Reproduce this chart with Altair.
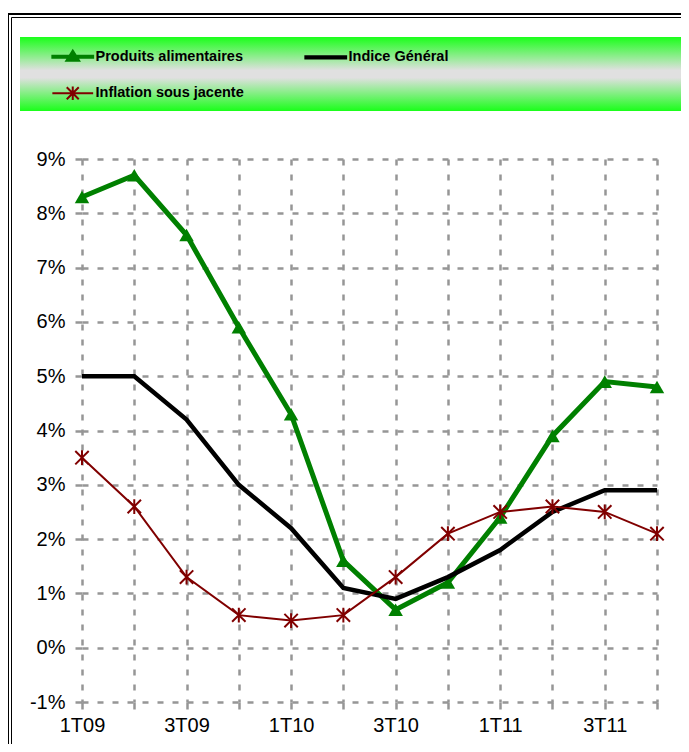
import altair as alt
import pandas as pd

quarters = ["1T09", "2T09", "3T09", "4T09", "1T10", "2T10", "3T10", "4T10",
            "1T11", "2T11", "3T11", "4T11"]
x_labels = ["1T09", "3T09", "1T10", "3T10", "1T11", "3T11"]
produits_alimentaires = [8.3, 8.7, 7.6, 5.9, 4.3, 1.6, 0.7, 1.2, 2.4, 3.9, 4.9, 4.8]
indice_general = [5.0, 5.0, 4.2, 3.0, 2.2, 1.1, 0.9, 1.3, 1.8, 2.5, 2.9, 2.9]
inflation_sous_jacente = [3.5, 2.6, 1.3, 0.6, 0.5, 0.6, 1.3, 2.1, 2.5, 2.6, 2.5, 2.1]
series_names = ["Produits alimentaires", "Indice Général", "Inflation sous jacente"]
series_colors = ["#008000", "#000000", "#800000"]
y_ticks = list(range(-1, 10))

ASTERISK = "M-1,-1L1,1M-1,1L1,-1M0,-1.1L0,1.1"
legend_shapes = [
    "M-5.1,-0.25H5.1V0.25H-5.1Z M0,-1.5L1.6,1.0L-1.6,1.0Z",
    "M-5.1,-0.3H5.1V0.3H-5.1Z",
    "M-5.1,0H5.1 M-1.5,-1.5L1.5,1.5 M-1.5,1.5L1.5,-1.5 M0,-1.7L0,1.7",
]

rows = []
for name, vals in zip(series_names,
                      [produits_alimentaires, indice_general, inflation_sous_jacente]):
    for q, v in zip(quarters, vals):
        rows.append({"trimestre": q, "valeur": v, "serie": name})
df = pd.DataFrame(rows)

GRID = "#969696"
FONT = "Liberation Sans"

x_enc = alt.X(
    "trimestre:O",
    scale=alt.Scale(type="point", padding=0, domain=quarters),
    axis=alt.Axis(
        title=None,
        labelExpr=f"indexof({x_labels}, datum.value) >= 0 ? datum.value : ''",
        labelAngle=0, tickSize=7, labelPadding=6,
    ),
)
y_enc = alt.Y(
    "valeur:Q",
    scale=alt.Scale(domain=[-1, 9], nice=False, zero=False),
    axis=alt.Axis(
        title=None, values=y_ticks, labelExpr="datum.value + '%'",
        tickSize=7, labelPadding=10,
    ),
)

base = alt.Chart(df)

frame_data = alt.Data(values=[{"k": 1}])
outer = alt.Chart(frame_data).mark_rect(
    fill="transparent", stroke="black", strokeWidth=2
).encode(x=alt.value(-74), x2=alt.value(900), y=alt.value(-145), y2=alt.value(900))
inner = alt.Chart(frame_data).mark_rect(
    fill="transparent", stroke="black", strokeWidth=1
).encode(x=alt.value(-70.5), x2=alt.value(900), y=alt.value(-141.5), y2=alt.value(900))

legend_bg = alt.Chart(frame_data).mark_rect(
    fill=alt.LinearGradient(
        gradient="linear", x1=0, y1=0, x2=0, y2=1,
        stops=[
            alt.GradientStop(offset=0, color="#1aff1a"),
            alt.GradientStop(offset=0.45, color="#e0e0e0"),
            alt.GradientStop(offset=0.55, color="#e0e0e0"),
            alt.GradientStop(offset=1, color="#1aff1a"),
        ],
    ),
    strokeWidth=0,
).encode(x=alt.value(-62), x2=alt.value(900), y=alt.value(-122), y2=alt.value(-48))

layers = []
for name, color, width in zip(series_names, series_colors, [5, 4.5, 2]):
    layers.append(
        base.transform_filter(alt.datum.serie == name)
        .mark_line(color=color, strokeWidth=width)
        .encode(x=x_enc, y=y_enc)
    )

tri = base.transform_filter(alt.datum.serie == series_names[0]).mark_point(
    shape="triangle-up", filled=True, size=210, color=series_colors[0], opacity=1
).encode(x=x_enc, y=y_enc)
ast = base.transform_filter(alt.datum.serie == series_names[2]).mark_point(
    shape=ASTERISK, filled=False, size=180, color=series_colors[2], strokeWidth=2, opacity=1
).encode(x=x_enc, y=y_enc)

legend_layer = base.transform_filter("false").mark_point(opacity=1, strokeWidth=2).encode(
    x=x_enc, y=y_enc,
    fill=alt.Fill("serie:N", scale=alt.Scale(domain=series_names, range=series_colors),
                  legend=alt.Legend(title=None)),
    stroke=alt.Stroke("serie:N", scale=alt.Scale(domain=series_names, range=series_colors),
                      legend=alt.Legend(title=None)),
    shape=alt.Shape("serie:N", scale=alt.Scale(domain=series_names, range=legend_shapes),
                    legend=alt.Legend(title=None)),
)

chart = alt.layer(
    legend_bg, outer, inner, layers[0], tri, layers[1], layers[2], ast, legend_layer
).properties(
    width=575, height=543,
    autosize=alt.AutoSizeParams(type="none"),
    padding={"left": 74, "top": 151, "right": 24, "bottom": 42},
).configure_view(stroke=None).configure_axis(
    domain=False, grid=True, gridColor=GRID, gridDash=[6, 9], gridWidth=2.5,
    tickColor=GRID, tickWidth=2.5,
    labelFont=FONT, labelFontSize=20, labelColor="black",
).configure_legend(
    orient="none", legendX=-36.5, legendY=-110, columns=2, direction="horizontal",
    padding=0,
    labelFont=FONT, labelFontWeight="bold", labelFontSize=14.5,
    labelColor="black", symbolSize=64, symbolStrokeWidth=2,
    symbolOffset=20, labelOffset=15.5, columnPadding=54, rowPadding=17,
)

chart.save("out.html", embed_options={"renderer": "svg", "actions": False})
